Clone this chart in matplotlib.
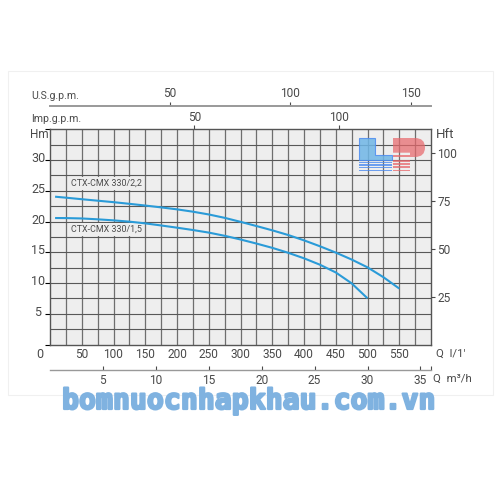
import matplotlib
matplotlib.use("Agg")
import matplotlib.pyplot as plt
import matplotlib.patheffects as pe
from matplotlib.patches import Rectangle, Polygon, PathPatch
from matplotlib.path import Path

plt.rcParams['font.family'] = ['Roboto', 'DejaVu Sans']

# Data
q_22 = [8, 25, 50, 75, 100, 125, 150, 175, 200, 225, 250, 275, 300, 325, 350, 375, 400, 425, 450, 475, 500, 525, 550]
h_22 = [24.04, 23.88, 23.63, 23.39, 23.15, 22.88, 22.6, 22.3, 21.98, 21.6, 21.15, 20.6,
        19.95, 19.27, 18.57, 17.81, 16.94, 15.98, 14.95, 13.82, 12.55, 10.95, 9.1]
q_15 = [8, 25, 50, 75, 100, 125, 150, 175, 200, 225, 250, 275, 300, 325, 350, 375, 400, 425, 450, 475, 500]
h_15 = [20.57, 20.56, 20.5, 20.36, 20.19, 19.98, 19.7, 19.36, 19.0, 18.62, 18.2, 17.68,
        17.08, 16.42, 15.72, 14.92, 14.02, 12.98, 11.72, 9.95, 7.51]
q_ticks = [50, 100, 150, 200, 250, 300, 350, 400, 450, 500, 550]
h_ticks = [5, 10, 15, 20, 25, 30]
hft_ticks = [25, 50, 75, 100]
m3h_ticks = [5, 10, 15, 20, 25, 30, 35]
usgpm_ticks = [50, 100, 150]
impgpm_ticks = [50, 100]
label_22 = "CTX-CMX 330/2,2"
label_15 = "CTX-CMX 330/1,5"
site = "bomnuocnhapkhau.com.vn"

W = H = 500.0
L, R, T, B = 50.0, 431.0, 129.3, 344.5
INK = '#4a4a4a'
FS = 8.6

fig = plt.figure(figsize=(5, 5), dpi=100, facecolor='white')
fig.add_artist(Rectangle((7.5 / W, 1 - 395 / H), 485.5 / W, 324 / H, transform=fig.transFigure,
                         facecolor='white', edgecolor='#f0f0f0', linewidth=0.8, zorder=-5))
ax = fig.add_axes([L / W, 1 - B / H, (R - L) / W, (B - T) / H], facecolor='#eeeeee')
ax.set_xlim(0, 600)
ax.set_ylim(0, 35)

for i in range(1, 24):
    ax.axvline(i * 25, color='#6e6e6e', lw=0.9, zorder=1)
for i in range(1, 14):
    ax.axhline(i * 2.5, color='#585858', lw=0.8, zorder=1)
for s in ax.spines.values():
    s.set_color('#555555')
    s.set_linewidth(1.0)

ax.plot(q_22, h_22, color='#2a9bd8', lw=1.5, zorder=3, solid_capstyle='butt')
ax.plot(q_15, h_15, color='#2a9bd8', lw=1.5, zorder=3, solid_capstyle='butt')

ax.tick_params(bottom=False, left=False, labelbottom=False, labelleft=False)

def ftext(x, y, s, **kw):
    kw.setdefault('color', INK)
    kw.setdefault('fontsize', FS)
    kw.setdefault('ha', 'center')
    kw.setdefault('va', 'center')
    return fig.text(x / W, 1 - y / H, s, **kw)

# Curve labels
box = dict(facecolor='#eeeeee', edgecolor='none', pad=1.5)
ax.text(33, 26.2, label_22, fontsize=6.4, color=INK, va='center', ha='left', bbox=box, zorder=2)
ax.text(33, 18.75, label_15, fontsize=6.4, color=INK, va='center', ha='left', bbox=box, zorder=2)

# Left axis labels
for h in h_ticks:
    ftext(38, B - h * 6.149 - 1.5, str(h), fontsize=9)
ftext(40, 355, "0", fontsize=9)
ftext(39, 135, "Hm", fontsize=8.5)

# Bottom Q axis labels
for q in q_ticks:
    ftext(L + q * (R - L) / 600, 355, str(q), fontsize=FS)
ftext(451, 353.5, "Q  l/1'", fontsize=8.2)

# Secondary axes: Imp gpm on the top of the plot, US gpm above it, m3/h below
imp = ax.secondary_xaxis('top', functions=(lambda v: v / 4.546, lambda v: v * 4.546))
imp.set_xticks(impgpm_ticks)
imp.tick_params(length=3, width=0.8, color=INK, labelsize=FS, labelcolor=INK, pad=1)
imp.spines['top'].set_visible(False)

us = ax.secondary_xaxis(1 + (T - 105.7) / (B - T), functions=(lambda v: v / 3.785, lambda v: v * 3.785))
us.set_xticks(usgpm_ticks)
us.tick_params(length=3, width=0.8, color=INK, labelsize=FS, labelcolor=INK, pad=1)
us.spines['top'].set_color('#999999')
us.spines['top'].set_linewidth(1.4)

m3 = ax.secondary_xaxis(-(369.7 - B) / (B - T), functions=(lambda v: v * 0.06, lambda v: v / 0.06))
m3.set_xticks(m3h_ticks)
m3.set_xticks([36], minor=True)
m3.tick_params(axis='x', which='both', direction='in', length=3, width=0.8, color=INK,
               labelsize=FS, labelcolor=INK, pad=3)
m3.spines['bottom'].set_color('#999999')
m3.spines['bottom'].set_linewidth(1.0)

ftext(31, 95.5, "U.S.g.p.m.", ha='left', fontsize=7.6)
ftext(31, 118.5, "Imp.g.p.m.", ha='left', fontsize=7.6)
ftext(452, 379, "Q  m³/h", fontsize=8.2)
ftext(445, 134, "Hft", fontsize=9.5)

# Right axis in feet
ft = ax.twinx()
ft.set_ylim(0, 112.2)
ft.set_yticks(hft_ticks)
ft.tick_params(axis='y', length=3, width=0.8, color=INK, labelsize=FS, labelcolor=INK, pad=1.5)
for s in ft.spines.values():
    s.set_visible(False)
ft.patch.set_visible(False)

# Logo overlay
def fig_xy(pts):
    return [(x / W, 1 - y / H) for x, y in pts]

blue = '#4d8cf0'
red = '#e8686c'
fig.add_artist(Polygon(fig_xy([(358.5, 138), (375, 138), (375, 155), (391.7, 155),
                               (391.7, 160), (358.5, 160)]), closed=True, transform=fig.transFigure,
                       facecolor='#6fb6e6', edgecolor=blue, lw=0.8, alpha=0.85, zorder=5))
for y in [161.5, 164, 166.5, 169.5]:
    fig.add_artist(Rectangle((358.5 / W, 1 - (y + 1.5) / H), 33.2 / W, 1.5 / H, transform=fig.transFigure,
                             facecolor=blue, edgecolor='none', alpha=0.8, zorder=5))
for y, c in [(154.5, 2.6), (160, 1.5), (163.3, 1.5), (166.2, 1.5), (169.5, 1.5)]:
    fig.add_artist(Rectangle((393 / W, 1 - (y + c) / H), 17 / W, c / H, transform=fig.transFigure,
                             facecolor=red, edgecolor='none', alpha=0.75, zorder=5))
verts = fig_xy([(393, 138), (415, 138), (425, 138), (425, 147.5), (425, 157), (415, 157),
                (410, 157), (410, 152.7), (393, 152.7), (393, 138)])
codes = [Path.MOVETO, Path.LINETO, Path.CURVE3, Path.CURVE3, Path.CURVE3, Path.CURVE3,
         Path.LINETO, Path.LINETO, Path.LINETO, Path.CLOSEPOLY]
fig.add_artist(PathPatch(Path(verts, codes), transform=fig.transFigure, facecolor=red,
                         edgecolor='none', alpha=0.72, zorder=5))

# Watermark
wm = ftext(249, 401, site, family='DejaVu Sans Mono', fontweight='bold', fontsize=20.3,
           color='#7fb2e0', zorder=6)
wm.set_path_effects([pe.withStroke(linewidth=1.6, foreground='#7fb2e0')])

fig.savefig('out.png', dpi=100)
